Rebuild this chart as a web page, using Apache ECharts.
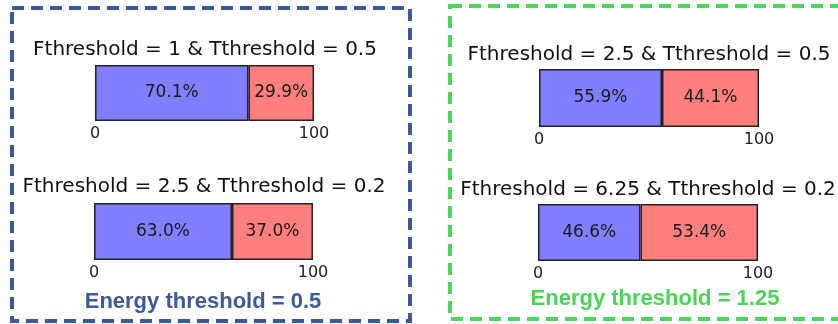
<!DOCTYPE html>
<html>
<head>
<meta charset="utf-8">
<script src="https://cdn.jsdelivr.net/npm/echarts@6/dist/echarts.min.js"></script>
<style>
  html, body { margin: 0; padding: 0; background: #fff; }
  #main { width: 838px; height: 324px; }
</style>
</head>
<body>
<div id="main"></div>
<script>
// data
var panelTitles = [
    'Fthreshold = 1 & Tthreshold = 0.5',
    'Fthreshold = 2.5 & Tthreshold = 0.2',
    'Fthreshold = 2.5 & Tthreshold = 0.5',
    'Fthreshold = 6.25 & Tthreshold = 0.2'
];
var blueShare = [70.1, 63.0, 55.9, 46.6];
var redShare = [29.9, 37.0, 44.1, 53.4];
var axisRange = [0, 100];
var groupLabels = ['Energy threshold = 0.5', 'Energy threshold = 1.25'];

// layout of each panel
var panels = [
    { left: 95, top: 65, width: 219, height: 56, tx: 205, ty: 50 },
    { left: 94, top: 203, width: 219, height: 57, tx: 204, ty: 187 },
    { left: 539, top: 69, width: 220, height: 58, tx: 649, ty: 55 },
    { left: 538, top: 204, width: 220, height: 57, tx: 648, ty: 190 }
];
var FONT = 'DejaVu Sans';

var grids = [], xAxes = [], yAxes = [], series = [], graphics = [];

function pctLabel(p) {
    return p.value.toFixed(1) + '%';
}

panels.forEach(function (p, i) {
    grids.push({ left: p.left, top: p.top, width: p.width, height: p.height });
    xAxes.push({
        type: 'value', gridIndex: i,
        min: axisRange[0], max: axisRange[1], interval: axisRange[1] - axisRange[0],
        axisLine: { show: false }, axisTick: { show: false }, splitLine: { show: false },
        axisLabel: { fontFamily: FONT, fontSize: 16, color: '#222', margin: 5 }
    });
    yAxes.push({
        type: 'category', gridIndex: i, data: [''],
        axisLine: { show: false }, axisTick: { show: false }, axisLabel: { show: false }
    });
    [[blueShare, '#7f7fff'], [redShare, '#ff7f7f']].forEach(function (s) {
        series.push({
            type: 'bar', xAxisIndex: i, yAxisIndex: i, stack: 'p' + i,
            data: [s[0][i]], barWidth: p.height, silent: true,
            itemStyle: { color: s[1], borderColor: '#222', borderWidth: 1.5 },
            label: {
                show: true, position: 'inside', formatter: pctLabel,
                fontFamily: FONT, fontSize: 17, color: '#1a1a1a'
            }
        });
    });
    graphics.push({
        type: 'text', x: p.tx, y: p.ty,
        style: {
            text: panelTitles[i], align: 'center', verticalAlign: 'middle',
            font: '20px "' + FONT + '"', fill: '#111'
        }
    });
});

// dashed group boxes
graphics.push({
    type: 'rect', shape: { x: 12, y: 8, width: 398, height: 313 },
    style: { fill: 'none', stroke: '#3d5a98', lineWidth: 4, lineDash: [12, 7] }
});
graphics.push({
    type: 'rect', shape: { x: 450, y: 6, width: 420, height: 313 },
    style: { fill: 'none', stroke: '#4bd55b', lineWidth: 4, lineDash: [12, 7] }
});
graphics.push({
    type: 'text', x: 203, y: 302,
    style: {
        text: groupLabels[0], align: 'center', verticalAlign: 'middle',
        font: 'bold 22px "Liberation Sans"', fill: '#3d5a98'
    }
});
graphics.push({
    type: 'text', x: 655, y: 299,
    style: {
        text: groupLabels[1], align: 'center', verticalAlign: 'middle',
        font: 'bold 22px "Liberation Sans"', fill: '#4cd35a'
    }
});

var chart = echarts.init(document.getElementById('main'));
chart.setOption({
    animation: false,
    grid: grids,
    xAxis: xAxes,
    yAxis: yAxes,
    series: series,
    graphic: graphics
});
</script>
</body>
</html>
